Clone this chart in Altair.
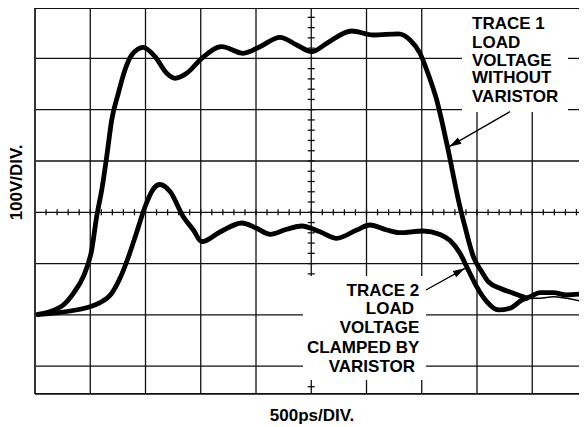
import altair as alt
import pandas as pd

# ---- Trace data (time in ns at 500 ps/div, voltage in V at 100 V/div, baseline = 0 V) ----
t1_time = [0.027, 0.166, 0.256, 0.347, 0.437, 0.513, 0.558, 0.604, 0.649, 0.694, 0.754, 0.814,
           0.875, 0.980, 1.086, 1.192, 1.267, 1.373, 1.509, 1.690, 1.885, 2.036, 2.217, 2.368,
           2.504, 2.640, 2.866, 3.062, 3.288, 3.394, 3.484, 3.545, 3.635, 3.726, 3.846, 3.891,
           3.967, 4.043, 4.102, 4.208, 4.329, 4.452]
t1_volt = [0.8, 8.6, 19.3, 42.1, 74.5, 126.5, 191.4, 243.5, 308.4, 379.9, 432.0, 477.4,
           506.6, 521.6, 503.3, 471.0, 461.2, 471.0, 500.2, 522.8, 509.9, 522.8, 541.1, 526.1,
           513.1, 529.4, 553.4, 545.6, 547.6, 535.9, 509.9, 477.4, 418.9, 334.5, 210.3, 171.9,
           113.5, 84.2, 64.7, 51.9, 42.1, 32.4]
t1_tail_time = [4.452, 4.570, 4.690, 4.812, 4.995]
t1_tail_volt = [32.4, 32.4, 35.5, 32.4, 23.8]

t2_time = [0.027, 0.498, 0.588, 0.694, 0.769, 0.842, 0.921, 0.995, 1.071, 1.131, 1.222, 1.342,
           1.433, 1.509, 1.674, 1.871, 2.006, 2.127, 2.278, 2.413, 2.579, 2.730, 2.911, 3.032,
           3.183, 3.303, 3.514, 3.665, 3.756, 3.846, 3.921, 3.997, 4.088, 4.193, 4.299, 4.405,
           4.480, 4.570, 4.690, 4.812, 4.995]
t2_volt = [0.8, 16.0, 23.8, 42.1, 71.3, 110.9, 161.6, 210.3, 245.4, 254.2, 240.5, 191.4,
           165.5, 142.7, 161.6, 179.1, 168.8, 157.1, 166.9, 173.3, 162.2, 149.3, 165.5, 175.2,
           165.5, 160.2, 163.5, 156.7, 145.0, 120.1, 87.5, 55.0, 25.7, 9.6, 12.9, 29.0,
           35.5, 43.3, 43.3, 38.8, 42.1]

# ---- Graticule ----
grid_time = [0.5, 1.0, 1.5, 2.0, 2.5, 3.0, 3.5, 4.0, 4.5]
grid_volt = [-100, 0, 100, 200, 300, 400, 500]
center_time = 2.5
center_volt = 200
minor_time = [round(0.1 * i, 2) for i in range(1, 50)]
minor_volt = [-140 + 20 * i for i in range(0, 37)]

X_MAX = 4.923
Y_MIN, Y_MAX = -154.2, 598.2

# ---- Annotations ----
label1_lines = ["TRACE 1", "LOAD", "VOLTAGE", "WITHOUT", "VARISTOR"]
label1_t = [3.955] * 5
label1_v = [556.7, 520.8, 485.8, 451.5, 415.6]

label2_lines = ["TRACE 2", "LOAD", "VOLTAGE", "CLAMPED BY", "VARISTOR"]
label2_t = [3.478, 3.430, 3.478, 3.478, 3.439]
label2_v = [37.4, 1.2, -35.9, -73.7, -110.7]

box_t = [3.864, 2.425]
box_t2 = [4.824, 3.538]
box_v = [Y_MAX, 75.8]
box_v2 = [395.5, -126.9]

arrow_t = [4.299, 3.538]
arrow_v = [396.1, 48.5]
arrow_tip_t = [3.749, 3.891]
arrow_tip_v = [327.9, 90.8]
arrow_angle = [240, 61]

x_title = "500ps/DIV."
y_title = "100V/DIV."
x_title_pos = (2.507, -206.8)
y_title_pos = (-0.163, 258.3)

FONT = "Liberation Sans"
INK = "#111111"

xs = alt.Scale(domain=[0, X_MAX], nice=False, zero=False)
ys = alt.Scale(domain=[Y_MIN, Y_MAX], nice=False, zero=False)


def X(f="t"):
    return alt.X(f"{f}:Q", scale=xs, axis=None)


def Y(f="v"):
    return alt.Y(f"{f}:Q", scale=ys, axis=None)


grid_v = alt.Chart(pd.DataFrame({"t": grid_time})).mark_rule(
    color=INK, strokeWidth=1.3).encode(x=X())
grid_h = alt.Chart(pd.DataFrame({"v": grid_volt})).mark_rule(
    color=INK, strokeWidth=1.3).encode(y=Y())

minor_x_df = pd.DataFrame({"t": minor_time, "v": [center_volt - 6] * len(minor_time),
                           "v2": [center_volt + 6] * len(minor_time)})
minor_x = alt.Chart(minor_x_df).mark_rule(color=INK, strokeWidth=1.3).encode(
    x=X(), y=Y(), y2="v2:Q")
minor_y_df = pd.DataFrame({"v": minor_volt, "t": [center_time - 0.032] * len(minor_volt),
                           "t2": [center_time + 0.032] * len(minor_volt)})
minor_y = alt.Chart(minor_y_df).mark_rule(color=INK, strokeWidth=1.3).encode(
    y=Y(), x=X(), x2="t2:Q")

boxes = alt.Chart(pd.DataFrame({"t": box_t, "t2": box_t2, "v": box_v, "v2": box_v2})).mark_rect(
    color="white").encode(x=X(), x2="t2:Q", y=Y(), y2="v2:Q")

border_left = alt.Chart(pd.DataFrame({"t": [0.0]})).mark_rule(
    color="#333333", strokeWidth=2).encode(x=X())
border_h = alt.Chart(pd.DataFrame({"v": [Y_MIN + 0.3, Y_MAX - 0.3]})).mark_rule(
    color=INK, strokeWidth=1.6).encode(y=Y())

line_style = dict(color="black", interpolate="monotone", clip=True,
                  strokeCap="round", strokeJoin="round")

trace2 = alt.Chart(pd.DataFrame({"t": t2_time, "v": t2_volt})).mark_line(
    strokeWidth=4.8, **line_style).encode(x=X(), y=Y(), order="t:Q")
trace1 = alt.Chart(pd.DataFrame({"t": t1_time, "v": t1_volt})).mark_line(
    strokeWidth=4.8, **line_style).encode(x=X(), y=Y(), order="t:Q")
trace1_tail = alt.Chart(pd.DataFrame({"t": t1_tail_time, "v": t1_tail_volt})).mark_line(
    strokeWidth=1.5, **line_style).encode(x=X(), y=Y(), order="t:Q")

arrows_df = pd.DataFrame({"t": arrow_t, "v": arrow_v, "t2": arrow_tip_t, "v2": arrow_tip_v,
                          "ang": arrow_angle})
arrow_lines = alt.Chart(arrows_df).mark_rule(color="black", strokeWidth=1.3).encode(
    x=X(), y=Y(), x2="t2:Q", y2="v2:Q")
arrow_heads = alt.Chart(arrows_df).mark_point(
    shape="M0,0L0.6,2L-0.6,2Z", filled=True, size=144, color="black", opacity=1,
    strokeWidth=0).encode(x=X("t2"), y=Y("v2"), angle=alt.Angle("ang:Q", scale=None))

text_style = dict(font=FONT, fontSize=17, fontWeight="bold", baseline="alphabetic",
                  color="black")
text1 = alt.Chart(pd.DataFrame({"t": label1_t, "v": label1_v, "txt": label1_lines})).mark_text(
    align="left", **text_style).encode(x=X(), y=Y(), text="txt:N")
text2 = alt.Chart(pd.DataFrame({"t": label2_t, "v": label2_v, "txt": label2_lines})).mark_text(
    align="right", **text_style).encode(x=X(), y=Y(), text="txt:N")

xtitle = alt.Chart(pd.DataFrame({"t": [x_title_pos[0]], "v": [x_title_pos[1]],
                                 "txt": [x_title]})).mark_text(
    align="center", **text_style).encode(x=X(), y=Y(), text="txt:N")
ytitle = alt.Chart(pd.DataFrame({"t": [y_title_pos[0]], "v": [y_title_pos[1]],
                                 "txt": [y_title]})).mark_text(
    font=FONT, fontSize=17, fontWeight="bold", color="black", align="center",
    baseline="middle", angle=270).encode(x=X(), y=Y(), text="txt:N")

chart = alt.layer(
    grid_v, grid_h, minor_x, minor_y, boxes, border_left, border_h,
    trace2, trace1, trace1_tail, arrow_lines, arrow_heads, text1, text2, xtitle, ytitle
).properties(
    width=544, height=386,
    autosize=alt.AutoSizeParams(type="none"),
    padding={"left": 27, "top": 0, "right": 0, "bottom": 31},
    background="white",
).configure_view(strokeWidth=0)

chart.save("out.html", embed_options={"renderer": "svg", "actions": False})
